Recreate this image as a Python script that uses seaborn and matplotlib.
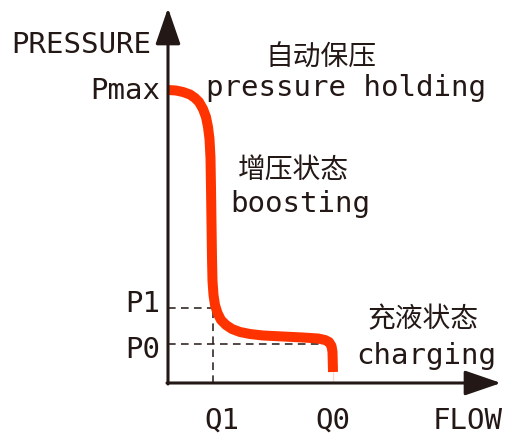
import matplotlib
matplotlib.use("Agg")
import matplotlib.pyplot as plt
import seaborn as sns
import pandas as pd

# curve (flow vs pressure, arbitrary units)
flow = [0, 8, 15, 22, 27, 31, 35, 38, 40, 41.5, 42.5, 43, 43.5, 44, 44.5, 45.5, 47, 49.5, 53,
        58, 64, 72, 82, 95, 115, 135, 150, 157, 161, 163.5, 164.5, 165, 165]
pressure = [293, 292.5, 291, 288.5, 285, 281, 274, 266, 256, 244, 225, 195, 160, 125, 102, 88, 78,
            70, 63, 58, 54, 51, 49, 47.5, 46.5, 45.5, 44.5, 43, 41, 37, 31, 22, 0]

# reference levels
p_max = 295
p1 = 75
p0 = 39
q1 = 45
q0 = 164

df = pd.DataFrame({"flow": flow, "pressure": pressure})

sns.set_style("white")
plt.rcParams["font.family"] = ["DejaVu Sans Mono", "Noto Sans CJK SC"]

AX_COL = "#231815"
RED = "#ff3300"

fig = plt.figure(figsize=(5.07, 4.36), dpi=100)
ax = fig.add_axes([0, 0, 1, 1])
ax.set_xlim(-168, 339)
ax.set_ylim(-53, 383)
ax.axis("off")

# dashed guide lines
ax.plot([0, q1], [p1, p1], ls=(0, (5, 3.5)), color=AX_COL, lw=1.1)
ax.plot([q1, q1], [0, p1], ls=(0, (5, 3.5)), color=AX_COL, lw=1.1)
ax.plot([0, q0], [p0, p0], ls=(0, (5, 3.5)), color=AX_COL, lw=1.1)

# axes with arrows
arrow = dict(arrowstyle="-|>,head_length=1.6,head_width=0.55", color=AX_COL,
             lw=2.2, shrinkA=0, shrinkB=0, mutation_scale=14)
ax.annotate("", xy=(0, 375), xytext=(0, -1), arrowprops=arrow)
ax.annotate("", xy=(333, 0), xytext=(-1, 0), arrowprops=arrow)

# the curve
sns.lineplot(data=df, x="flow", y="pressure", sort=False, ax=ax, color=RED,
             lw=7.2, solid_joinstyle="round", solid_capstyle="butt")

fs = 21
cjk = ["Noto Sans CJK SC", "DejaVu Sans"]
ax.text(-87, 338, "PRESSURE", fontsize=fs, ha="center", va="center", color=AX_COL)
ax.text(-8, p_max - 3, "Pmax", fontsize=fs, ha="right", va="center", color=AX_COL)
ax.text(-8, 79, "P1", fontsize=fs, ha="right", va="center", color=AX_COL)
ax.text(-8, 33, "P0", fontsize=fs, ha="right", va="center", color=AX_COL)
ax.text(54, -52, "Q1", fontsize=fs, ha="center", va="bottom", color=AX_COL)
ax.text(165, -52, "Q0", fontsize=fs, ha="center", va="bottom", color=AX_COL)
ax.text(300, -52, "FLOW", fontsize=fs, ha="center", va="bottom", color=AX_COL)

ax.text(153, 325, "自动保压", fontsize=20, family=cjk, ha="center", va="center", color=AX_COL)
ax.text(178, 295, "pressure holding", fontsize=fs, ha="center", va="center", color=AX_COL)
ax.text(125, 213, "增压状态", fontsize=20, family=cjk, ha="center", va="center", color=AX_COL)
ax.text(132, 179, "boosting", fontsize=fs, ha="center", va="center", color=AX_COL)
ax.text(255, 64, "充液状态", fontsize=20, family=cjk, ha="center", va="center", color=AX_COL)
ax.text(258, 27, "charging", fontsize=fs, ha="center", va="center", color=AX_COL)

fig.savefig("out.png", dpi=100, facecolor="white")
